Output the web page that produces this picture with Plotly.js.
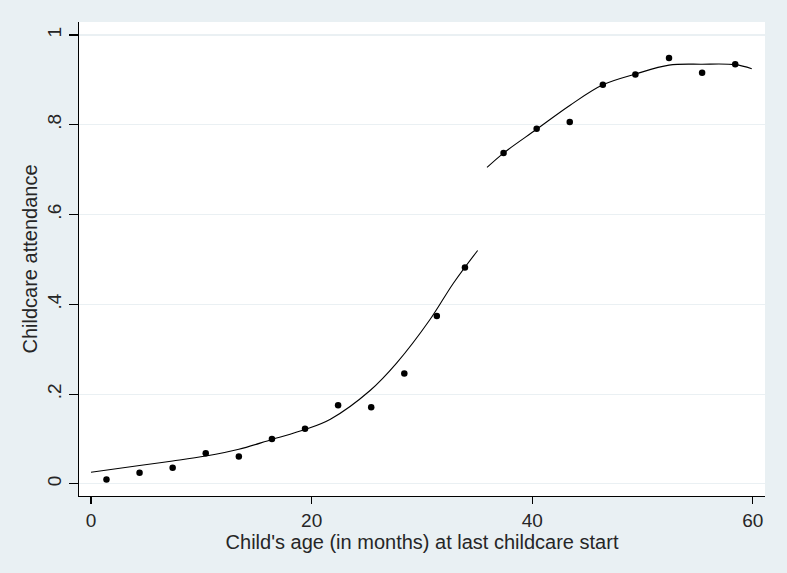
<!DOCTYPE html>
<html>
<head>
<meta charset="utf-8">
<script src="https://cdn.plot.ly/plotly-3.0.1.min.js"></script>
<style>html,body{margin:0;padding:0;background:#e9f0f3;}</style>
</head>
<body>
<div id="chart" style="width:787px;height:573px;"></div>
<script>
// Binned observations
const ageBins = [1.4, 4.4, 7.4, 10.4, 13.4, 16.4, 19.4, 22.4, 25.4, 28.4, 31.35, 33.9,
                 37.4, 40.4, 43.4, 46.4, 49.35, 52.4, 55.4, 58.4];
const attendance = [0.010, 0.025, 0.036, 0.068, 0.061, 0.100, 0.123, 0.175, 0.171, 0.246, 0.374, 0.482,
                    0.737, 0.791, 0.806, 0.889, 0.912, 0.949, 0.916, 0.935];

// Fitted curve, left of the cutoff
const fitLeftX = [0, 4.4, 7.4, 10.4, 13.4, 16.4, 19.4, 21.7, 25.3, 27.7, 30.7, 32.85, 35.05];
const fitLeftY = [0.026, 0.041, 0.051, 0.062, 0.077, 0.099, 0.121, 0.144, 0.208, 0.269, 0.365, 0.447, 0.520];

// Fitted curve, right of the cutoff
const fitRightX = [35.9, 37.4, 40.4, 43.4, 46.4, 49.35, 52.4, 55.4, 58.4, 59.9];
const fitRightY = [0.705, 0.737, 0.790, 0.843, 0.889, 0.913, 0.933, 0.935, 0.934, 0.925];

const yTicks = [0, 0.2, 0.4, 0.6, 0.8, 1];
const yTickText = ["0", ".2", ".4", ".6", ".8", "1"];
const xTicks = [0, 20, 40, 60];

const fam = "Liberation Sans, Arial, sans-serif";
const tickFont = {family: fam, size: 19, color: "#262626"};
const titleFont = {family: fam, size: 20, color: "#262626"};

const traces = [
  {x: fitLeftX, y: fitLeftY, mode: "lines", line: {color: "#000", width: 1.1, shape: "spline"}, hoverinfo: "skip"},
  {x: fitRightX, y: fitRightY, mode: "lines", line: {color: "#000", width: 1.1, shape: "spline"}, hoverinfo: "skip"},
  {x: ageBins, y: attendance, mode: "markers", marker: {color: "#000", size: 6.5}}
];

const layout = {
  width: 787, height: 573,
  margin: {l: 79, r: 22, t: 22, b: 77},
  paper_bgcolor: "#e9f0f3",
  plot_bgcolor: "#ffffff",
  showlegend: false,
  font: tickFont,
  xaxis: {
    range: [-1.09, 61.1],
    tickvals: xTicks,
    ticks: "outside", ticklen: 7, tickcolor: "#000", tickwidth: 1.2,
    showline: true, linecolor: "#000", linewidth: 1.2,
    showgrid: false, zeroline: false,
    tickfont: tickFont,
    title: {text: "Child's age (in months) at last childcare start", font: titleFont, standoff: 0}
  },
  yaxis: {
    range: [-0.027, 1.029],
    tickvals: yTicks, ticktext: yTickText, tickangle: -90,
    ticks: "outside", ticklen: 9, tickcolor: "#000", tickwidth: 1.2,
    showline: true, linecolor: "#000", linewidth: 1.2,
    showgrid: true, gridcolor: "#eaf0f3", gridwidth: 1.2,
    zeroline: false,
    tickfont: tickFont,
    title: {text: "Childcare attendance", font: titleFont, standoff: 1}
  }
};

Plotly.newPlot("chart", traces, layout, {displayModeBar: false, staticPlot: true});
</script>
</body>
</html>
